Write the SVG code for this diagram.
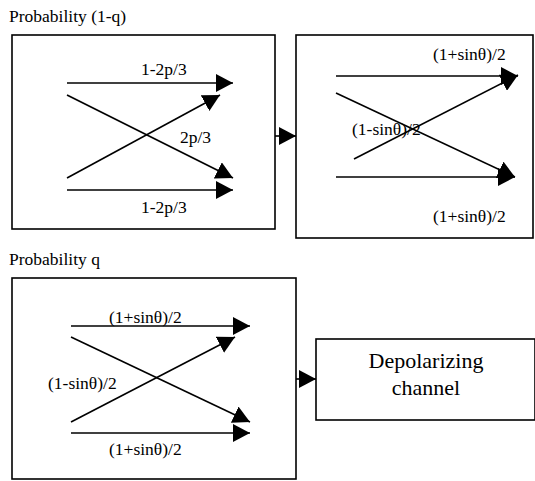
<svg xmlns="http://www.w3.org/2000/svg" width="535" height="481" viewBox="0 0 535 481">
<style>
.box{fill:#fff;stroke:#000;stroke-width:1.6}
.ln{stroke:#000;stroke-width:1.6;fill:none;marker-end:url(#ah)}
text{font-family:"Liberation Serif","Times New Roman",serif;font-size:17.5px;fill:#000}
.big{font-size:22px;text-anchor:middle}
</style>
<defs>
<marker id="ah" markerWidth="18" markerHeight="18" refX="17" refY="9" orient="auto" markerUnits="userSpaceOnUse">
<path d="M0,0 L17,9 L0,18 z" fill="#000"/>
</marker>
</defs>
<rect width="535" height="481" fill="#fff"/>
<text x="9" y="22">Probability (1-q)</text>
<text x="9" y="265">Probability q</text>
<g id="box1">
<rect class="box" x="12" y="35" width="263" height="194"/>
<text x="141" y="75">1-2p/3</text>
<text x="180" y="143">2p/3</text>
<text x="141" y="213">1-2p/3</text>
</g>
<g id="box2">
<rect class="box" x="296" y="35" width="237" height="203"/>
<text x="433" y="60">(1+sinθ)/2</text>
<text x="433" y="222">(1+sinθ)/2</text>
</g>
<g id="box3">
<rect class="box" x="12" y="278" width="284" height="201"/>
<text x="109" y="323">(1+sinθ)/2</text>
<text x="48" y="389">(1-sinθ)/2</text>
<text x="109" y="455">(1+sinθ)/2</text>
</g>
<g id="depol">
<rect class="box" x="316" y="339" width="219" height="81"/>
<text class="big" x="426" y="368">Depolarizing</text>
<text class="big" x="426" y="395">channel</text>
</g>
<g id="connectors">
<line class="ln" x1="67" y1="83" x2="233" y2="83"/>
<line class="ln" x1="67" y1="95" x2="233" y2="178"/>
<line class="ln" x1="67" y1="178" x2="220" y2="95"/>
<line class="ln" x1="67" y1="190" x2="233" y2="190"/>
<line class="ln" x1="336" y1="76" x2="518" y2="76"/>
<line class="ln" x1="336" y1="93" x2="515" y2="177"/>
<line class="ln" x1="354" y1="159" x2="518" y2="75"/>
<line class="ln" x1="336" y1="177" x2="515" y2="177"/>
<line class="ln" x1="71" y1="326" x2="250" y2="326"/>
<line class="ln" x1="71" y1="337" x2="250" y2="422"/>
<line class="ln" x1="71" y1="422" x2="235" y2="337"/>
<line class="ln" x1="71" y1="433" x2="250" y2="433"/>
<line class="ln" x1="275" y1="136" x2="296" y2="136"/>
<line class="ln" x1="296" y1="379" x2="316" y2="379"/>
</g>
<text x="352" y="135">(1-sinθ)/2</text>
</svg>
